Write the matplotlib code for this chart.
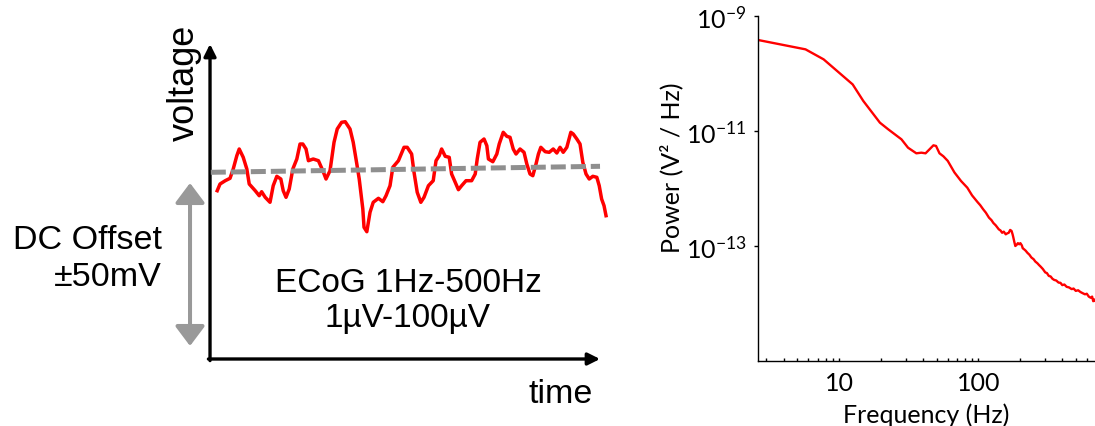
import matplotlib
matplotlib.use("Agg")
import matplotlib.pyplot as plt
import numpy as np
from matplotlib.ticker import (LogLocator, NullFormatter, NullLocator,
                               LogFormatterSciNotation, FuncFormatter)

plt.rcParams['font.family'] = ['Lato', 'DejaVu Sans']
plt.rcParams['axes.unicode_minus'] = False

# --- left panel: schematic ECoG trace (time in ms, voltage in arbitrary units)
trace_t = [18, 25, 38, 50, 58, 67, 73, 83, 92, 98, 113, 123, 129, 138, 150, 158,
           167, 177, 183, 190, 198, 207, 217, 225, 232, 240, 246, 258, 271, 282,
           290, 300, 310, 318, 329, 338, 350, 358, 367, 373, 382, 385, 392, 400,
           408, 421, 432, 440, 450, 457, 471, 485, 493, 504, 510, 518, 527, 535,
           546, 558, 565, 573, 579, 588, 598, 604, 613, 621, 629, 640, 654, 663,
           668, 675, 685, 692, 696, 707, 717, 723, 733, 742, 750, 758, 765, 775,
           785, 792, 800, 807, 815, 821, 827, 838, 848, 858, 867, 875, 883, 892,
           902, 908, 917, 925, 932, 940, 948, 957, 967, 973, 979, 985, 990]
trace_v = [168.3, 175, 178.3, 180.7, 190, 203.3, 210, 201.7, 190, 175, 168.3, 163.3,
           167.3, 161.7, 156.7, 173.3, 182.7, 180, 168.3, 161.7, 170, 190, 200, 215,
           215, 210, 198.3, 200, 198.3, 188.3, 180, 188.3, 216.7, 230, 236.7, 237.3,
           230, 216.7, 195, 180, 150, 131.7, 127.3, 146.7, 156.7, 160.7, 157.3,
           163.3, 173.3, 191.7, 198.3, 211.7, 211.7, 205, 186.7, 166.7, 156.7, 161.7,
           173.3, 178.3, 198.3, 203.3, 210, 202.7, 201.7, 185, 176.7, 169.3, 173.3,
           178.3, 178.3, 185, 200, 216.7, 220, 213.3, 200, 197.3, 205, 215, 226.7,
           222.7, 221.7, 210, 205, 210, 206.7, 195, 185, 183.3, 195, 205, 211.7,
           207.3, 206.7, 210, 206, 211.7, 206.7, 211.7, 226.7, 225, 220, 215, 196.7,
           185, 180, 182.7, 181.7, 173.3, 160, 153.3, 143.3]
baseline_t = [2, 975]
baseline_v = [186.7, 192.7]
dc_range = [13, 176]

# --- right panel: power spectrum
freq = [2.61, 5.73, 7.73, 12.5, 14.9, 19.6, 22.5, 28.0, 31.2, 35.8, 38.9, 41.7,
        44.5, 47.5, 49.6, 52.5, 56, 60.2, 67.2, 75, 83.2, 90, 98.4, 103, 108, 113,
        119, 124, 128, 133, 140, 144, 148, 152, 157, 161, 165, 169, 173, 176, 178,
        181, 184, 188, 192, 196, 200, 205, 208, 211, 218, 225, 232, 240, 249, 256,
        265, 272, 280, 290, 302, 310, 320, 330, 340, 350, 362, 376, 388, 400, 414,
        430, 447, 467, 482, 500, 520, 540, 560, 582, 600, 620, 640, 655, 667, 680,
        687]
log_power = [-9.417, -9.58, -9.754, -10.19, -10.478, -10.855, -10.971, -11.145,
             -11.29, -11.388, -11.377, -11.388, -11.319, -11.249, -11.26, -11.388,
             -11.44, -11.52, -11.72, -11.87, -11.986, -12.12, -12.235, -12.29,
             -12.36, -12.42, -12.507, -12.55, -12.60, -12.64, -12.71, -12.73,
             -12.77, -12.75, -12.797, -12.78, -12.77, -12.72, -12.739, -12.80,
             -12.85, -12.93, -13.0, -12.98, -12.95, -12.97, -12.95, -12.99, -13.04,
             -13.05, -13.08, -13.12, -13.15, -13.2, -13.23, -13.27, -13.30, -13.33,
             -13.36, -13.40, -13.46, -13.47, -13.52, -13.53, -13.57, -13.59, -13.60,
             -13.636, -13.64, -13.68, -13.67, -13.71, -13.72, -13.75, -13.74, -13.78,
             -13.77, -13.80, -13.82, -13.84, -13.83, -13.88, -13.90, -13.88, -13.96,
             -13.93, -13.95]
power = [10 ** p for p in log_power]

fig = plt.figure(figsize=(10.95, 4.27), dpi=100)

# left schematic
ax1 = fig.add_axes([0.1918, 0.1569, 0.3653, 0.7377])
ax1.set_xlim(0, 1000)
ax1.set_ylim(0, 315)
ax1.axis('off')
ax1.plot(trace_t, trace_v, color='#ff0000', lw=2.5, zorder=3, solid_joinstyle='round')
ax1.plot(baseline_t, baseline_v, color='#8f8f8f', lw=3.6, dashes=(3.0, 1.0), zorder=4)

arrow_kw = dict(arrowstyle='-|>,head_length=0.4,head_width=0.2', color='black',
                lw=2.4, mutation_scale=18, shrinkA=0, shrinkB=0)
ax1.annotate('', xy=(0.975, 0), xytext=(-0.004, 0), xycoords='axes fraction',
             arrowprops=arrow_kw, annotation_clip=False)
ax1.annotate('', xy=(0, 1.0), xytext=(0, -0.005), xycoords='axes fraction',
             arrowprops=arrow_kw, annotation_clip=False)
ax1.annotate('', xy=(-50, dc_range[0]), xytext=(-50, dc_range[1]), xycoords='data',
             arrowprops=dict(arrowstyle='<|-|>,head_length=0.4,head_width=0.3',
                             color='#999999', lw=2.9, mutation_scale=30,
                             shrinkA=0, shrinkB=0),
             annotation_clip=False)

sans = ['Liberation Sans', 'DejaVu Sans']
fig.text(0.168, 0.806, 'voltage', rotation=90, ha='center', va='center',
         fontsize=26, family=sans)
fig.text(0.148, 1 - 259 / 427, 'DC Offset\n±50mV', ha='right', va='center',
         multialignment='right', fontsize=24.5, linespacing=1.25, family=sans)
fig.text(0.3726, 1 - 301 / 427, 'ECoG 1Hz-500Hz\n1µV-100µV', ha='center',
         va='center', fontsize=24, linespacing=1.2, family=sans)
fig.text(593 / 1095, 1 - 403 / 427, 'time', ha='right', va='baseline',
         fontsize=24.5, family=sans)

# right spectrum
ax2 = fig.add_axes([0.6922, 0.1522, 0.3078, 0.808])
ax2.loglog(freq, power, color='#ff0000', lw=1.7)
ax2.set_xlim(2.61, 687)
ax2.set_ylim(1e-15, 1e-9)
ax2.spines['top'].set_visible(False)
ax2.spines['right'].set_visible(False)
for s in ('left', 'bottom'):
    ax2.spines[s].set_linewidth(1.0)
ax2.set_yticks([1e-13, 1e-11, 1e-9])
ax2.yaxis.set_major_formatter(LogFormatterSciNotation())
ax2.yaxis.set_minor_locator(NullLocator())
ax2.yaxis.set_minor_formatter(NullFormatter())
ax2.xaxis.set_major_locator(LogLocator(base=10, numticks=10))
ax2.xaxis.set_major_formatter(FuncFormatter(lambda v, pos: '%d' % round(v)))
ax2.xaxis.set_minor_locator(LogLocator(base=10, subs=np.arange(2, 10), numticks=20))
ax2.xaxis.set_minor_formatter(NullFormatter())
ax2.tick_params(axis='y', which='major', direction='out', length=3, width=1,
                labelsize=18, pad=5)
ax2.tick_params(axis='x', which='both', direction='in', length=2.5, width=1,
                labelsize=18, pad=7)
ax2.set_xlabel('Frequency (Hz)', fontsize=18, labelpad=6)
ax2.set_ylabel('Power (V² / Hz)', fontsize=18)
ax2.yaxis.set_label_coords(-0.222, 0.562)

fig.savefig('out.png', dpi=100)
